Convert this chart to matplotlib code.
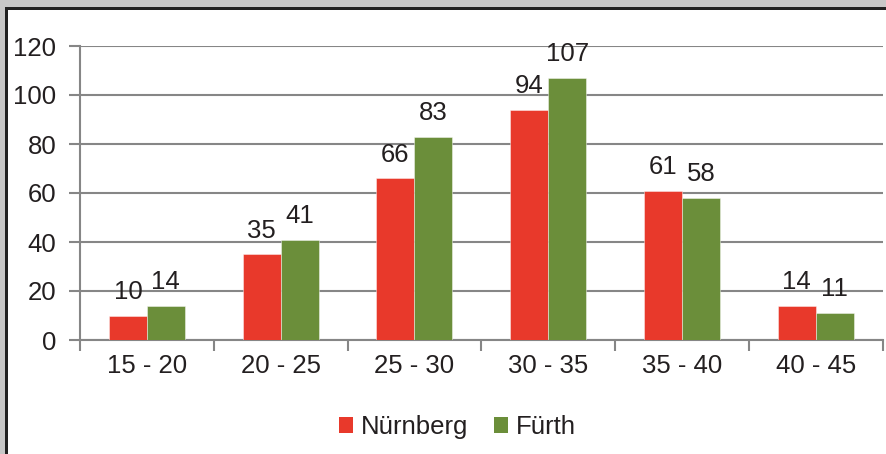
import matplotlib
matplotlib.use("Agg")
import matplotlib.pyplot as plt
from matplotlib.patches import Rectangle, Patch
import numpy as np

categories = ["15 - 20", "20 - 25", "25 - 30", "30 - 35", "35 - 40", "40 - 45"]
nuernberg = [10, 35, 66, 94, 61, 14]
fuerth = [14, 41, 83, 107, 58, 11]
series_names = ["Nürnberg", "Fürth"]
yticks = [0, 20, 40, 60, 80, 100, 120]

RED = "#E8392B"
GREEN = "#6B8E3A"
GRID = "#868686"
TXT = "#231F20"
FS = 18.5

plt.rcParams['font.family'] = ['Liberation Sans', 'DejaVu Sans']

W, H = 886, 454
fig = plt.figure(figsize=(W / 100, H / 100), dpi=100, facecolor="white")

# outer frame decoration (gray band + dark border line)
def px_rect(x0, y0, x1, y1, color):
    fig.patches.append(Rectangle((x0 / W, 1 - y1 / H), (x1 - x0) / W, (y1 - y0) / H,
                                 transform=fig.transFigure, facecolor=color,
                                 edgecolor="none", zorder=0))

px_rect(0, 0, W, 7, "#C8C8C8")
px_rect(0, 0, 5, H, "#C8C8C8")
px_rect(5, 7, W, 10, "#222222")
px_rect(5, 7, 8, H, "#222222")

left, right, top, bottom = 80, 882.5, 46, 340
ax = fig.add_axes([left / W, 1 - bottom / H, (right - left) / W, (bottom - top) / H])
ax.set_facecolor("none")

x = np.arange(len(categories))
bw = 0.284
b1 = ax.bar(x - bw / 2, nuernberg, width=bw, color=RED, edgecolor=(1, 1, 1, 0.5), linewidth=0.6, zorder=3)
b2 = ax.bar(x + bw / 2, fuerth, width=bw, color=GREEN, edgecolor=(1, 1, 1, 0.5), linewidth=0.6, zorder=3)

for bars, vals in ((b1, nuernberg), (b2, fuerth)):
    for rect, v in zip(bars, vals):
        ax.annotate(str(v), (rect.get_x() + rect.get_width() / 2, v),
                    xytext=(0, 12.0), textcoords="offset points",
                    ha="center", va="baseline", fontsize=FS, color=TXT, zorder=4)

ax.set_ylim(0, 120)
ax.set_xlim(-0.5, len(categories) - 0.5)
ax.set_yticks(yticks)
ax.set_yticklabels([str(t) for t in yticks])
ax.yaxis.grid(True, color=GRID, linewidth=1.5, zorder=1)
ax.set_axisbelow(True)

ax.set_xticks(x)
ax.set_xticklabels(categories)
ax.set_xticks(np.arange(-0.5, len(categories)), minor=True)
ax.tick_params(axis="x", which="major", length=0, pad=10, labelsize=FS, labelcolor=TXT)
ax.tick_params(axis="x", which="minor", length=8, width=1.5, color=GRID)
ax.tick_params(axis="y", which="major", length=8, width=1.5, color=GRID, pad=9,
               labelsize=FS, labelcolor=TXT)

for s in ("top", "right"):
    ax.spines[s].set_visible(False)
for s in ("left", "bottom"):
    ax.spines[s].set_color(GRID)
    ax.spines[s].set_linewidth(1.5)

handles = [Patch(facecolor=RED, edgecolor="none"), Patch(facecolor=GREEN, edgecolor="none")]
fig.legend(handles, series_names, loc="center", bbox_to_anchor=(457 / W, 1 - 427 / H),
           ncol=2, frameon=False, fontsize=FS, handlelength=0.55, handleheight=0.55,
           handletextpad=0.3, columnspacing=1.0, labelcolor=TXT)

fig.savefig("out.png", dpi=100, facecolor="white")
